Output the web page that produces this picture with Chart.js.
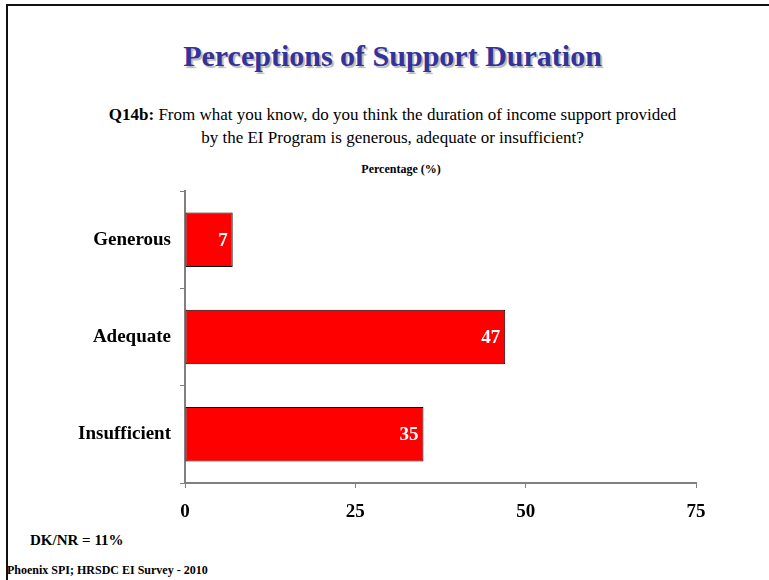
<!DOCTYPE html>
<html>
<head>
<meta charset="utf-8">
<script src="https://cdn.jsdelivr.net/npm/chart.js@4"></script>
<style>
  html, body { margin: 0; padding: 0; background: #fff; }
  body { width: 769px; height: 580px; position: relative; overflow: hidden; font-family: "Liberation Serif", "Times New Roman", serif; }
  .frame { position: absolute; left: 6px; top: 4px; width: 800px; height: 600px; border-top: 2px solid #111; border-left: 2px solid #111; }
  .txt { position: absolute; white-space: nowrap; color: #000; }
  #title { left: 0; width: 785px; top: 39px; text-align: center; font-size: 30px; font-weight: bold; color: #333399; text-shadow: 2px 2px 1px #b8b8b8; }
  #question { left: 0; width: 785px; top: 103px; text-align: center; font-size: 17px; line-height: 23px; }
  #unit { left: 0; width: 802px; top: 162px; text-align: center; font-size: 12px; font-weight: bold; }
  #dknr { left: 30px; top: 532px; font-size: 15px; font-weight: bold; }
  #source { left: 7px; top: 563px; font-size: 12px; font-weight: bold; }
  canvas { position: absolute; left: 0; top: 0; }
</style>
</head>
<body>
<div class="frame"></div>
<div class="txt" id="title">Perceptions of Support Duration</div>
<div class="txt" id="question"><b>Q14b:</b> From what you know, do you think the duration of income support provided<br>by the EI Program is generous, adequate or insufficient?</div>
<div class="txt" id="unit">Percentage (%)</div>
<div class="txt" id="dknr">DK/NR = 11%</div>
<div class="txt" id="source">Phoenix SPI; HRSDC EI Survey - 2010</div>
<canvas id="chart" width="769" height="580"></canvas>
<script>
const categories = ["Generous", "Adequate", "Insufficient"];
const percentages = [7, 47, 35];
const axisTicks = [0, 25, 50, 75];

const FONT = "'Liberation Serif', 'Times New Roman', serif";

// white value labels sitting inside the end of each bar
const barValues = {
  id: "barValues",
  afterDatasetsDraw(chart) {
    const ctx = chart.ctx;
    const meta = chart.getDatasetMeta(0);
    ctx.save();
    ctx.font = "bold 19px " + FONT;
    ctx.fillStyle = "#ffffff";
    ctx.textAlign = "right";
    ctx.textBaseline = "middle";
    meta.data.forEach((bar, i) => {
      ctx.fillText(String(percentages[i]), bar.x - 5, bar.y + 1);
    });
    ctx.restore();
  }
};

new Chart(document.getElementById("chart"), {
  type: "bar",
  data: {
    labels: categories,
    datasets: [{
      data: percentages,
      backgroundColor: "#ff0000",
      borderColor: "#000000",
      borderWidth: 1,
      borderSkipped: false,
      categoryPercentage: 1,
      barPercentage: 0.56
    }]
  },
  options: {
    indexAxis: "y",
    responsive: false,
    animation: false,
    layout: { padding: { left: 0, top: 191, right: 73, bottom: 47 } },
    plugins: {
      legend: { display: false },
      tooltip: { enabled: false }
    },
    scales: {
      x: {
        min: 0,
        max: 75,
        afterBuildTicks: (scale) => { scale.ticks = axisTicks.map(v => ({ value: v })); },
        border: { color: "#808080", width: 2 },
        grid: { drawOnChartArea: false, drawTicks: true, tickLength: 5, color: "#808080", lineWidth: 1 },
        ticks: { color: "#000", padding: 13, font: { family: FONT, size: 19, weight: "bold" } },
        afterFit: (scale) => { scale.height = 50; }
      },
      y: {
        border: { color: "#808080", width: 2 },
        grid: { offset: true, drawOnChartArea: false, drawTicks: true, tickLength: 5, color: "#808080", lineWidth: 1 },
        ticks: { color: "#000", padding: 9, font: { family: FONT, size: 19, weight: "bold" } },
        afterFit: (scale) => { scale.width = 185; }
      }
    }
  },
  plugins: [barValues]
});
</script>
</body>
</html>
